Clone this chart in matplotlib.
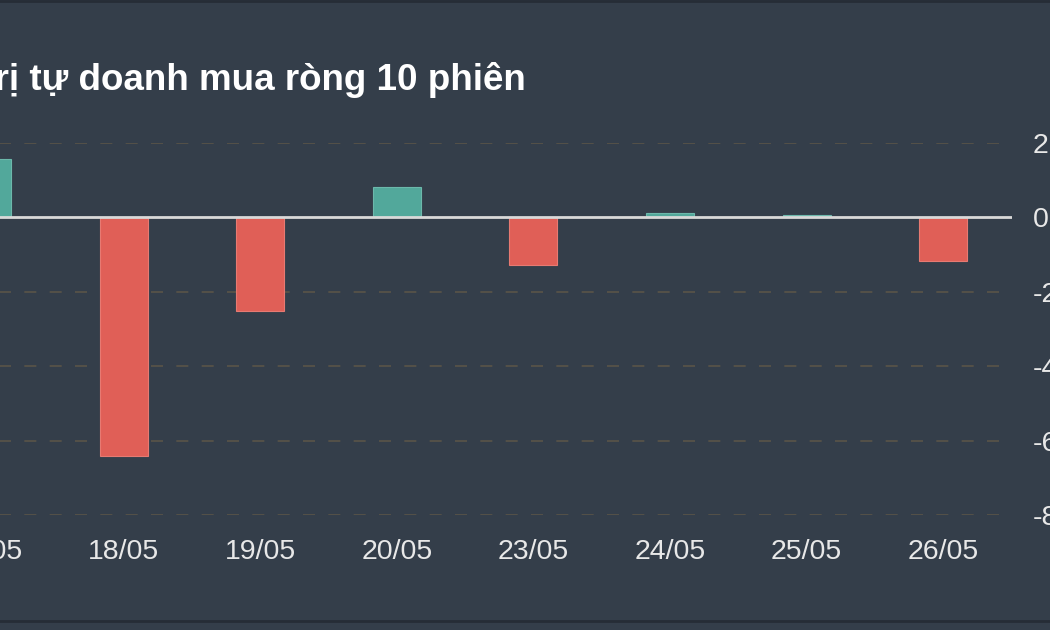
import matplotlib
matplotlib.use("Agg")
import matplotlib.pyplot as plt
from matplotlib.lines import Line2D

dates = ["17/05", "18/05", "19/05", "20/05", "23/05", "24/05", "25/05", "26/05"]
values = [1.56, -6.42, -2.52, 0.83, -1.29, 0.12, 0.06, -1.18]
yticks = [2, 0, -2, -4, -6, -8]
ytick_labels = ["2", "0", "-2", "-4", "-6", "-8"]
title = "Giá trị tự doanh mua ròng 10 phiên"

BG = "#343e4a"
POS = "#52a89b"
NEG = "#e05f57"
GRID = "#5a5448"
TXT = "#e8e8e8"

plt.rcParams['font.family'] = ['Liberation Sans', 'DejaVu Sans']

W, H = 1050, 630
fig = plt.figure(figsize=(W / 100, H / 100), dpi=100, facecolor=BG)

# category spacing ~136.6 px; index 0 centred at -13 px; plot area ends at 1012 px
step = 136.6
left_px = -13 - 0.5 * step
right_px = 1012
ax = fig.add_axes([left_px / W, (H - 515) / H, (right_px - left_px) / W, (515 - 143) / H])
ax.set_facecolor(BG)
for s in ax.spines.values():
    s.set_visible(False)

x = list(range(len(dates)))
colors = [POS if v >= 0 else NEG for v in values]
edges = ["#6cb8ab" if v >= 0 else "#e77a72" for v in values]
ax.bar(x, values, width=48 / step, color=colors, edgecolor=edges, linewidth=0.8, zorder=3)

ax.set_xlim(-0.5, (right_px - left_px) / step - 0.5)
ax.set_ylim(-8, 2)

for t in yticks:
    if t != 0:
        ax.axhline(t, color=GRID, linestyle=(0, (7.2, 8)), linewidth=1.2, zorder=1)
ax.axhline(0, color="#d9d9d9", linewidth=2, zorder=4)

ax.set_xticks(x)
ax.set_xticklabels(dates, color=TXT, fontsize=20.5)
ax.tick_params(axis='x', length=0, pad=17)

ax.yaxis.tick_right()
ax.set_yticks(yticks)
ax.set_yticklabels(ytick_labels, color=TXT, fontsize=20.5)
ax.tick_params(axis='y', length=0, pad=15)

fig.text(526 / W, (H - 80) / H, title, ha='right', va='center', color="white",
         fontsize=26.5, fontweight='bold')

# frame lines top and bottom
fig.add_artist(Line2D([0, 1], [1 - 1 / H, 1 - 1 / H], color="#262d36", linewidth=2, transform=fig.transFigure))
fig.add_artist(Line2D([0, 1], [(H - 621) / H, (H - 621) / H], color="#262d36", linewidth=2, transform=fig.transFigure))

fig.savefig("out.png", dpi=100, facecolor=BG)
